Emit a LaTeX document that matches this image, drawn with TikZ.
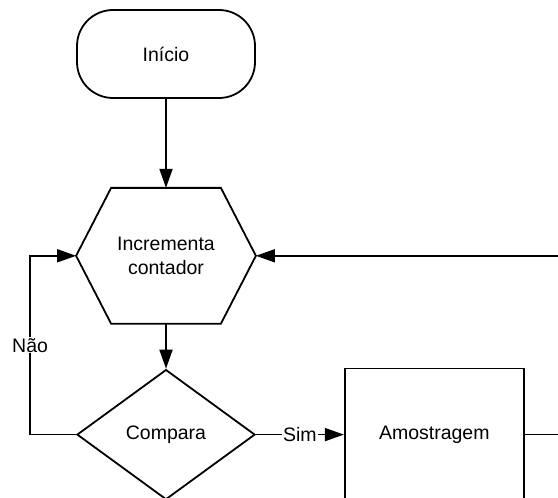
\documentclass[tikz,border=0pt]{standalone}
\usepackage{fontspec}
\setmainfont{Liberation Sans}
\usetikzlibrary{positioning, shapes.geometric, arrows.meta}

\begin{document}
\begin{tikzpicture}[
    x=1pt, y=1pt,
    line width=1.8pt,
    font=\fontsize{19.5}{24}\selectfont,
    terminal/.style={rectangle, draw, rounded corners=36pt, minimum width=178pt, minimum height=88pt},
    process/.style={rectangle, minimum width=108pt, minimum height=134pt, align=center},
    decision/.style={diamond, draw, minimum width=178pt, minimum height=130pt},
    block/.style={rectangle, draw, minimum width=179pt, minimum height=132pt},
    arrow/.style={-{Triangle[length=19pt, width=13pt]}},
    answer/.style={fill=white, inner sep=1pt},
]

% Frame (the loop back leaves the picture on the right)
\useasboundingbox (0,0) rectangle (558,498);
\clip (0,0) rectangle (558,498);

% Start
\node[terminal] (inicio) at (166,444) {Início};

% Counter (hexagon)
\node[process, below=89pt of inicio] (incrementa) {Incrementa\\contador};
\coordinate[left=35pt of incrementa.west] (incrementaW);
\coordinate[right=35pt of incrementa.east] (incrementaE);
\draw[line join=miter] (incrementa.north west) -- (incrementa.north east) -- (incrementaE)
    -- (incrementa.south east) -- (incrementa.south west) -- (incrementaW) -- cycle;

% Test
\node[decision, below=45pt of incrementa] (compara) {Compara};

% Sampling
\node[block, right=88pt of compara] (amostragem) {Amostragem};

% Arrows
\draw[arrow] (inicio) -- (incrementa);
\draw[arrow] (incrementa) -- (compara);
\draw[arrow] (compara.east) -- node[answer] {Sim} (amostragem.west);
\draw[arrow] (compara.west) -- ++(-46,0) |- node[answer, pos=0.25] {Não} (incrementaW);
\draw[arrow] (amostragem.east) -- ++(60,0) |- (incrementaE);

\end{tikzpicture}
\end{document}
